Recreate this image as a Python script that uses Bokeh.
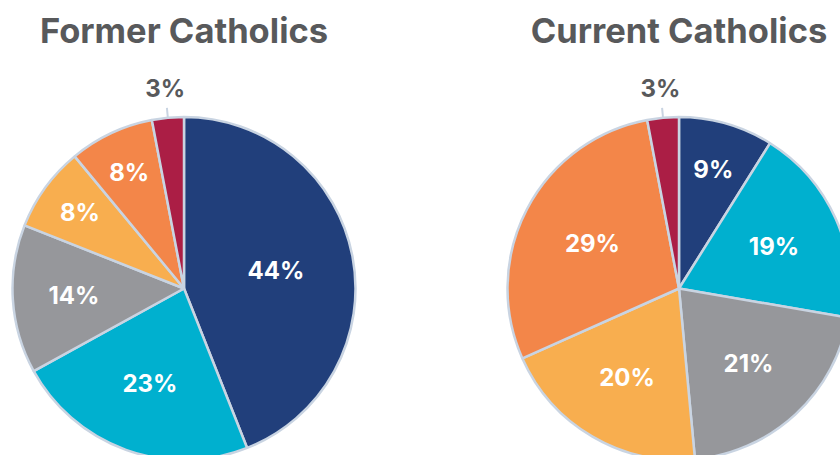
import math
from bokeh.plotting import figure
from bokeh.models import Range1d, ColumnDataSource
from bokeh.core.properties import value
from bokeh.embed import file_html
from bokeh.resources import INLINE

titles = ["Former Catholics", "Current Catholics"]
former_values = [44, 23, 14, 8, 8, 3]
current_values = [9, 19, 21, 20, 29, 3]
slice_colors = ["#213F7B", "#00B0CF", "#96979B", "#F8AE4F", "#F38649", "#AB1E45"]

# layout (pixel coordinates of the picture; y axis = -pixel_y)
W, H = 840, 455
centers = [(183.5, -288.0), (678.5, -288.0)]
R = 171.5
edge_color = "#C9D4E2"
dark_text = "#58595B"
font = "Inter"

p = figure(width=W, height=H, output_backend="svg", toolbar_location=None,
           x_range=Range1d(0, W), y_range=Range1d(-H, 0),
           min_border=0, outline_line_color=None, background_fill_color="white")
p.axis.visible = False
p.xgrid.visible = False
p.ygrid.visible = False

for (cx, cy), title, vals in zip(centers, titles, [former_values, current_values]):
    total = float(sum(vals))
    starts, ends, mids, shares = [], [], [], []
    cum = 0.0
    for v in vals:
        s = v / total
        a0 = math.pi / 2 - 2 * math.pi * cum
        a1 = math.pi / 2 - 2 * math.pi * (cum + s)
        starts.append(a0)
        ends.append(a1)
        mids.append((a0 + a1) / 2)
        shares.append(s)
        cum += s
    src = ColumnDataSource(dict(x=[cx] * len(vals), y=[cy] * len(vals),
                                start=starts, end=ends, color=slice_colors))
    p.wedge(x="x", y="y", radius=R, start_angle="start", end_angle="end",
            direction="clock", fill_color="color", line_color=edge_color,
            line_width=2.5, source=src)

    in_x, in_y, in_t = [], [], []
    out_x, out_y, out_t = [], [], []
    lx0, ly0, lx1, ly1 = [], [], [], []
    for v, s, m in zip(vals, shares, mids):
        if s >= 0.05:
            rf = 0.5 + 0.02 / s
            in_x.append(cx + R * rf * math.cos(m))
            in_y.append(cy + R * rf * math.sin(m))
            in_t.append(f"{v}%")
        else:
            lx0.append(cx + R * math.cos(m)); ly0.append(cy + R * math.sin(m))
            lx1.append(cx + (R + 10) * math.cos(m)); ly1.append(cy + (R + 10) * math.sin(m))
            out_x.append(cx + (R + 29) * math.cos(m))
            out_y.append(cy + (R + 29) * math.sin(m))
            out_t.append(f"{v}%")
    p.text(x=in_x, y=in_y, text=in_t, text_color="white", text_font=value(font),
           text_font_style="bold", text_font_size="24px", text_align="center",
           text_baseline="middle")
    p.segment(x0=lx0, y0=ly0, x1=lx1, y1=ly1, line_color=edge_color, line_width=2)
    p.text(x=out_x, y=out_y, text=out_t, text_color=dark_text, text_font=value(font),
           text_font_style="bold", text_font_size="24px", text_align="center",
           text_baseline="middle")
    p.text(x=[cx], y=[-30], text=[title], text_color=dark_text, text_font=value(font),
           text_font_style="bold", text_font_size="34.5px", text_align="center",
           text_baseline="middle")

open("out.html", "w").write(file_html(p, INLINE))
